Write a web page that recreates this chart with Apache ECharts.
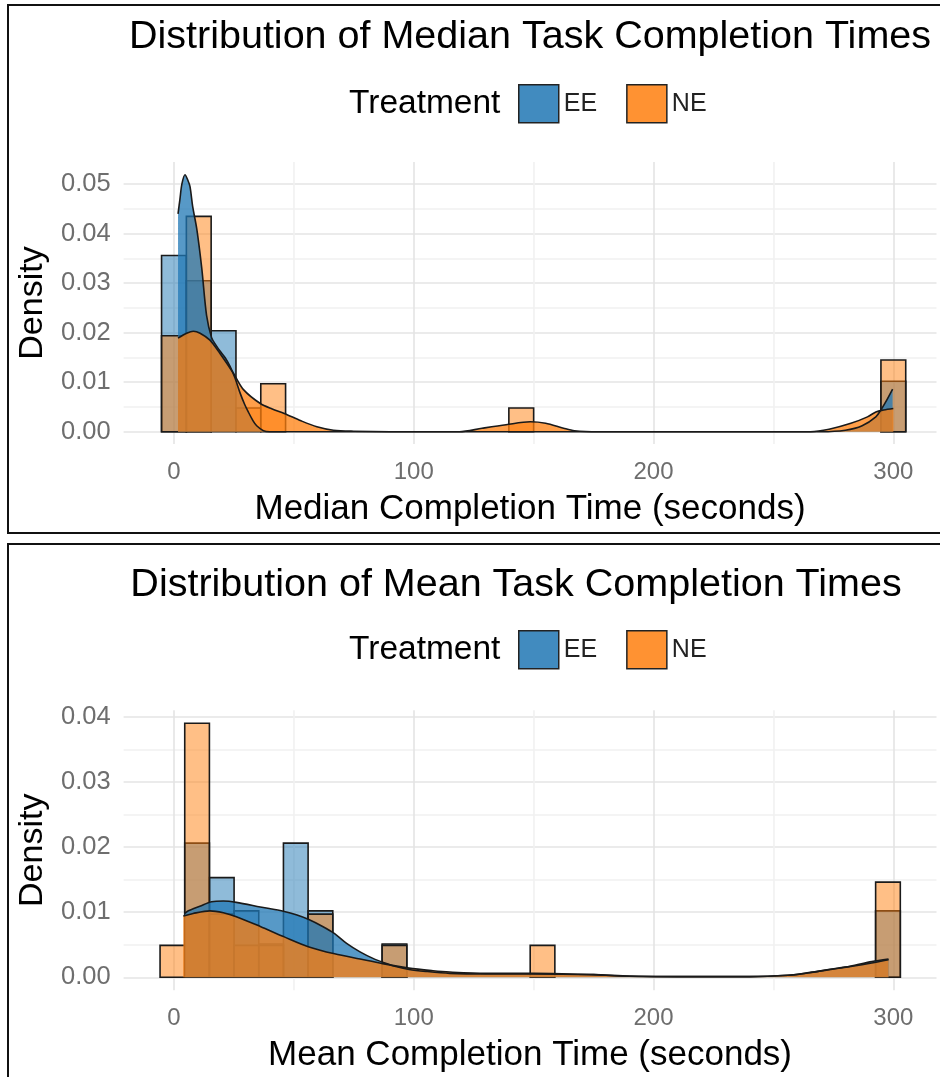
<!DOCTYPE html>
<html>
<head>
<meta charset="utf-8">
<title>Task Completion Times</title>
<script src="https://cdn.jsdelivr.net/npm/echarts@6/dist/echarts.min.js"></script>
<style>
  html, body { margin: 0; padding: 0; background: #fff; }
  #chart { width: 940px; height: 1077px; }
</style>
</head>
<body>
<div id="chart"></div>
<script>
// ---- data ----
const treatments = ['EE', 'NE'];
const xTickLabels = [0, 100, 200, 300];
const yTickLabels = [0, 0.01, 0.02, 0.03, 0.04, 0.05];

// median panel: histogram bins (centre, density)
const medianBinWidth = 10.34;
const medianEECenters = [0, 10.34, 20.69, 300];
const medianEEHeights = [0.0356, 0.0305, 0.0204, 0.0102];
const medianNECenters = [0, 10.34, 31.03, 41.38, 144.83, 300];
const medianNEHeights = [0.0194, 0.0435, 0.0048, 0.0097, 0.0048, 0.0145];

// median panel: density curves
const medianEEDensX = [1.7, 2.5, 3.3, 4.6, 5.8, 6.7, 7.8, 9.5, 11.6, 13.6, 15.7, 17.5, 19.2, 21.3, 23.4, 25.5, 27.6, 29.5, 31, 33, 34.5, 37.3, 40, 100, 200, 270, 280, 287, 292.7, 294.8, 297.6, 299.7];
const medianEEDensY = [0.044, 0.047, 0.050, 0.0519, 0.0508, 0.0495, 0.0455, 0.041, 0.033, 0.0235, 0.019, 0.0175, 0.0163, 0.015, 0.0132, 0.0108, 0.0078, 0.0055, 0.004, 0.0022, 0.0012, 0.0002, 0, 0, 0, 0, 0.0003, 0.0012, 0.003, 0.0044, 0.0067, 0.0086];
const medianNEDensX = [1.7, 5.3, 8.1, 10.9, 15, 19.2, 24.8, 29, 36, 41, 46, 53, 59.6, 66.5, 75, 90, 119, 128.5, 138.5, 148.6, 155, 162.5, 167, 177, 220, 265.5, 273.2, 282.3, 289.2, 292.7, 296, 300];
const medianNEDensY = [0.0189, 0.0199, 0.0203, 0.0199, 0.0185, 0.0158, 0.0118, 0.0085, 0.0057, 0.0046, 0.0037, 0.0022, 0.001, 0.0003, 0.0001, 0, 0, 0.0007, 0.0014, 0.002, 0.0017, 0.0007, 0.0002, 0, 0, 0, 0.0005, 0.0017, 0.003, 0.004, 0.0044, 0.0047];

// mean panel: histogram bins (centre, density)
const meanBinWidth = 10.29;
const meanEECenters = [9.64, 19.93, 30.22, 40.51, 50.8, 61.09, 91.96, 297.76];
const meanEEHeights = [0.0206, 0.0153, 0.0102, 0.0051, 0.0206, 0.0102, 0.0051, 0.0102];
const meanNECenters = [-0.65, 9.64, 19.93, 30.22, 40.51, 61.09, 91.96, 153.7, 297.76];
const meanNEHeights = [0.0049, 0.039, 0.0097, 0.0049, 0.0049, 0.0097, 0.0049, 0.0049, 0.0146];

// mean panel: density curves
const meanEEDensX = [4.5, 6, 10.8, 15.7, 20.6, 26, 36, 46, 51, 56, 62, 67, 72, 77.6, 83, 88, 93, 98, 105, 115, 130, 150, 175, 190, 210, 240, 256, 265, 273, 282, 291, 298];
const meanEEDensY = [0.0098, 0.0102, 0.0109, 0.0116, 0.0117, 0.0115, 0.0108, 0.0101, 0.0096, 0.0089, 0.0078, 0.0067, 0.0052, 0.0039, 0.0029, 0.0022, 0.0016, 0.0012, 0.0009, 0.0006, 0.0005, 0.0005, 0.0004, 0.0002, 0.0001, 0.0001, 0.0003, 0.0007, 0.0012, 0.0017, 0.0024, 0.0028];
const meanNEDensX = [3.9, 8, 15, 20.6, 26, 36, 46, 56, 67, 77.6, 87, 98, 108, 115, 130, 150, 165, 175, 186, 200, 240, 256, 263, 272, 281, 291, 298];
const meanNEDensY = [0.0094, 0.0098, 0.0102, 0.0099, 0.0093, 0.0078, 0.0062, 0.0047, 0.0036, 0.0028, 0.0021, 0.0014, 0.0010, 0.0008, 0.0006, 0.0006, 0.0005, 0.0004, 0.0002, 0.0001, 0.0001, 0.0003, 0.0006, 0.0011, 0.0016, 0.0022, 0.0027];

// ---- styling ----
const FONT = 'Liberation Sans, Arial, sans-serif';
const EE_BAR = 'rgba(31,119,180,0.5)';
const NE_BAR = 'rgba(255,127,14,0.5)';
const EE_AREA = 'rgba(31,119,180,0.75)';
const NE_AREA = 'rgba(255,127,14,0.75)';
const OUTLINE = '#1a1a1a';
const MAJOR = '#e4e4e4';
const MINOR = '#f1f1f1';

const zip = (xs, ys) => xs.map((x, i) => [x, ys[i]]);

// grid line colour cycles (one colour per tick, ticks counted from min)
const cycle = (len, majorAt, minorAt) =>
  Array.from({ length: len }, (_, i) => (i === majorAt ? MAJOR : i === minorAt ? MINOR : 'rgba(0,0,0,0)'));

function histSeries(name, centers, heights, width, color, idx) {
  return {
    name: name,
    type: 'custom',
    xAxisIndex: idx,
    yAxisIndex: idx,
    z: 2,
    clip: true,
    data: zip(centers, heights),
    encode: { x: 0, y: 1 },
    renderItem: function (params, api) {
      const c = api.value(0);
      const h = api.value(1);
      const p0 = api.coord([c - width / 2, h]);
      const p1 = api.coord([c + width / 2, 0]);
      return {
        type: 'rect',
        shape: { x: p0[0], y: p0[1], width: p1[0] - p0[0], height: p1[1] - p0[1] },
        style: { fill: color, stroke: OUTLINE, lineWidth: 1.6 }
      };
    }
  };
}

function densitySeries(name, xs, ys, color, idx) {
  return {
    name: name,
    type: 'line',
    xAxisIndex: idx,
    yAxisIndex: idx,
    z: 3,
    data: zip(xs, ys),
    smooth: 0.3,
    showSymbol: false,
    symbol: 'none',
    lineStyle: { color: OUTLINE, width: 1.6 },
    areaStyle: { color: color, opacity: 1 }
  };
}

function xAxisFor(idx, title) {
  return {
    type: 'value',
    gridIndex: idx,
    min: -21,
    max: 318,
    interval: 1,
    axisLine: { show: false, onZero: false },
    axisTick: { show: false },
    splitLine: { show: true, lineStyle: { color: cycle(100, 21, 71), width: 1.6 } },
    axisLabel: {
      margin: 16,
      color: '#6e6e6e',
      fontFamily: FONT,
      fontSize: 24,
      formatter: v => (xTickLabels.indexOf(Math.round(v)) >= 0 && Math.abs(v - Math.round(v)) < 1e-6 ? String(Math.round(v)) : '')
    },
    name: title,
    nameLocation: 'middle',
    nameGap: 48,
    nameTextStyle: { color: '#000', fontFamily: FONT, fontSize: 35 }
  };
}

function yAxisFor(idx, min, max, interval, colors) {
  return {
    type: 'value',
    gridIndex: idx,
    min: min,
    max: max,
    interval: interval,
    axisLine: { show: false },
    axisTick: { show: false },
    splitLine: { show: true, lineStyle: { color: colors, width: 1.6 } },
    axisLabel: {
      margin: 13,
      color: '#6e6e6e',
      fontFamily: FONT,
      fontSize: 25.5,
      formatter: function (v) {
        const hit = yTickLabels.find(t => Math.abs(t - v) < 1e-7);
        return hit === undefined ? '' : hit.toFixed(2);
      }
    },
    name: 'Density',
    nameLocation: 'middle',
    nameRotate: 90,
    nameGap: 64,
    nameTextStyle: { color: '#000', fontFamily: FONT, fontSize: 34 }
  };
}

function legendAt(top) {
  return {
    top: top,
    left: 518,
    padding: 0,
    orient: 'horizontal',
    icon: 'rect',
    itemWidth: 40,
    itemHeight: 38,
    itemGap: 29,
    selectedMode: false,
    textStyle: { color: '#222', fontFamily: FONT, fontSize: 25 },
    data: [
      { name: treatments[0], itemStyle: { color: '#418bbf', borderColor: '#222', borderWidth: 1.5 } },
      { name: treatments[1], itemStyle: { color: '#ff9232', borderColor: '#222', borderWidth: 1.5 } }
    ]
  };
}

const chart = echarts.init(document.getElementById('chart'), null, { renderer: 'canvas' });

const option = {
  backgroundColor: '#fff',
  animation: false,
  title: [
    {
      text: 'Distribution of Median Task Completion Times',
      left: 530, top: 17, padding: 0, textAlign: 'center',
      textStyle: { color: '#000', fontFamily: FONT, fontSize: 39.5, fontWeight: 'normal' }
    },
    {
      text: 'Treatment',
      left: 349, top: 87, padding: 0,
      textStyle: { color: '#000', fontFamily: FONT, fontSize: 33.5, fontWeight: 'normal' }
    },
    {
      text: 'Distribution of Mean Task Completion Times',
      left: 516, top: 565, padding: 0, textAlign: 'center',
      textStyle: { color: '#000', fontFamily: FONT, fontSize: 39.5, fontWeight: 'normal' }
    },
    {
      text: 'Treatment',
      left: 349, top: 633, padding: 0,
      textStyle: { color: '#000', fontFamily: FONT, fontSize: 33.5, fontWeight: 'normal' }
    }
  ],
  legend: [legendAt(84), legendAt(630)],
  grid: [
    { left: 123.6, top: 161.9, width: 812.9, height: 282.2 },
    { left: 123.6, top: 710.2, width: 812.9, height: 280.1 }
  ],
  xAxis: [
    xAxisFor(0, 'Median Completion Time (seconds)'),
    xAxisFor(1, 'Mean Completion Time (seconds)')
  ],
  yAxis: [
    yAxisFor(0, -0.0025, 0.0545, 0.0005, cycle(20, 5, 15)),
    yAxisFor(1, -0.002, 0.041, 0.001, cycle(10, 2, 7))
  ],
  graphic: [
    { type: 'rect', shape: { x: 8, y: 5, width: 950, height: 528 }, style: { fill: 'none', stroke: '#111', lineWidth: 2 }, z: 100 },
    { type: 'rect', shape: { x: 8, y: 544, width: 950, height: 560 }, style: { fill: 'none', stroke: '#111', lineWidth: 2 }, z: 100 }
  ],
  series: [
    histSeries('EE', medianEECenters, medianEEHeights, medianBinWidth, EE_BAR, 0),
    histSeries('NE', medianNECenters, medianNEHeights, medianBinWidth, NE_BAR, 0),
    densitySeries('EE', medianEEDensX, medianEEDensY, EE_AREA, 0),
    densitySeries('NE', medianNEDensX, medianNEDensY, NE_AREA, 0),
    histSeries('EE', meanEECenters, meanEEHeights, meanBinWidth, EE_BAR, 1),
    histSeries('NE', meanNECenters, meanNEHeights, meanBinWidth, NE_BAR, 1),
    densitySeries('EE', meanEEDensX, meanEEDensY, EE_AREA, 1),
    densitySeries('NE', meanNEDensX, meanNEDensY, NE_AREA, 1)
  ]
};

chart.setOption(option);
</script>
</body>
</html>
